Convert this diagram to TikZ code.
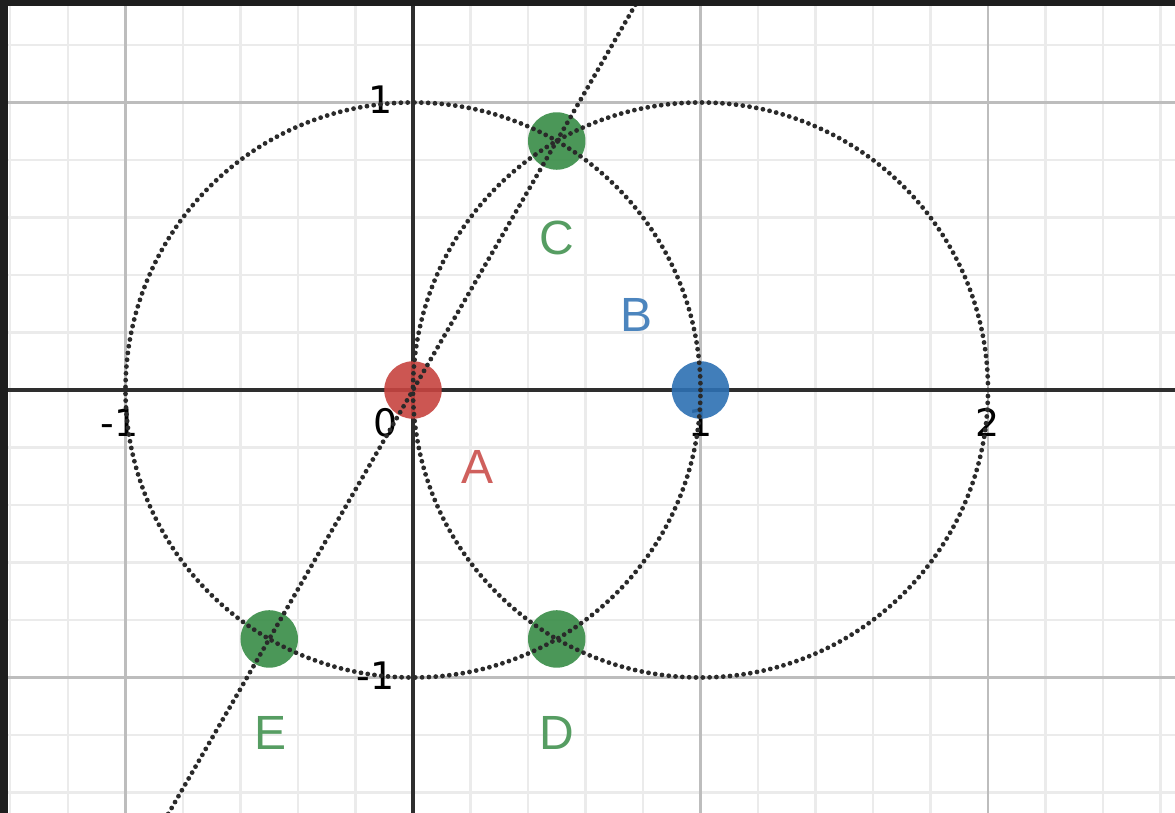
\documentclass[tikz,border=0pt]{standalone}
\usepackage{fontspec}
\setmainfont{DejaVu Sans}
\newfontfamily\labelfont{Liberation Sans}
\usetikzlibrary{calc}
\usepackage{xcolor}
\definecolor{GridMinor}{HTML}{EBEBEB}
\definecolor{GridMajor}{HTML}{BDBDBD}
\definecolor{AxisDark}{HTML}{2E2E2E}
\definecolor{FrameDark}{HTML}{1E1E1E}
\definecolor{CurveDark}{HTML}{2A2A2A}
\definecolor{PtRed}{HTML}{C74440}
\definecolor{PtBlue}{HTML}{2D70B3}
\definecolor{PtGreen}{HTML}{388C46}
\tikzset{
    % Grid and axes
    minorgrid/.style={
        draw=GridMinor,
        line width=0.8pt
    },
    majorgrid/.style={
        draw=GridMajor,
        line width=1pt
    },
    axisline/.style={
        draw=AxisDark,
        line width=1.2pt
    },
    ticklabel/.style={
        font=\fontsize{15}{18}\selectfont,
        text=black,
        inner sep=0pt
    },
    % Dotted curves
    dotcurve/.style={
        draw=CurveDark,
        line width=1.9pt,
        line cap=round,
        dash pattern=on 0pt off 2.7pt
    },
    % Points and their letters
    point/.style={
        circle,
        inner sep=0pt,
        minimum size=0.8cm,
        fill opacity=0.9
    },
    ptlabel/.style={
        font=\labelfont\fontsize{19}{22}\selectfont,
        inner sep=0pt,
        anchor=base
    }
}

\begin{document}
\begin{tikzpicture}[x=4cm, y=4cm]
    \useasboundingbox (-1.4365,-1.4713) rectangle (2.6504,1.3565);
    \fill[white] (-1.4365,-1.4713) rectangle (2.6504,1.3565);
    \clip (-1.4365,-1.4713) rectangle (2.6504,1.3565);

    % grid
    \foreach \g in {-7,...,13}
        \draw[minorgrid] (\g/5,-1.5) -- (\g/5,1.4);
    \foreach \g in {-7,...,6}
        \draw[minorgrid] (-1.5,\g/5) -- (2.7,\g/5);
    \foreach \g in {-1,1,2}
        \draw[majorgrid] (\g,-1.5) -- (\g,1.4);
    \foreach \g in {-1,1}
        \draw[majorgrid] (-1.5,\g) -- (2.7,\g);
    \draw[axisline] (-1.5,0) -- (2.7,0);
    \draw[axisline] (0,-1.5) -- (0,1.4);

    % tick labels
    \node[ticklabel, anchor=base east] (ty1) at (-0.07,0.963) {1};
    \node[ticklabel, anchor=base east] (tym1) at (-0.063,-1.043) {-1};
    \node[ticklabel, anchor=base] (txm1) at (-1.02,-0.1635) {-1};
    \node[ticklabel, anchor=base] (tx0) at (-0.097,-0.1635) {0};
    \node[ticklabel, anchor=base] (tx1) at (1,-0.1635) {1};
    \node[ticklabel, anchor=base] (tx2) at (2,-0.1635) {2};

    % points
    \node[point, fill=PtRed] (A) at (0,0) {};
    \node[point, fill=PtBlue] (B) at (1,0) {};
    \node[point, fill=PtGreen] (C) at (0.5,0.866) {};
    \node[point, fill=PtGreen] (D) at (0.5,-0.866) {};
    \node[point, fill=PtGreen] (E) at (-0.5,-0.866) {};

    % circles and line
    \draw[dotcurve] (A.center) circle (1);
    \draw[dotcurve] (B.center) circle (1);
    \draw[dotcurve] ($(A.center)!-1.75!(C.center)$) -- ($(A.center)!1.62!(C.center)$);

    % letters
    \node[ptlabel, text=PtRed!85] (labA) at (0.223,-0.3235) {A};
    \node[ptlabel, text=PtBlue!85] (labB) at (0.779,0.2017) {B};
    \node[ptlabel, text=PtGreen!85] (labC) at (0.5,0.4696) {C};
    \node[ptlabel, text=PtGreen!85] (labD) at (0.5,-1.252) {D};
    \node[ptlabel, text=PtGreen!85] (labE) at (-0.497,-1.252) {E};

    % dark frame
    \fill[FrameDark] (-1.4365,1.3356) rectangle (2.6504,1.3565);
    \fill[FrameDark] (-1.4365,-1.4713) rectangle (-1.4087,1.3565);
\end{tikzpicture}
\end{document}
